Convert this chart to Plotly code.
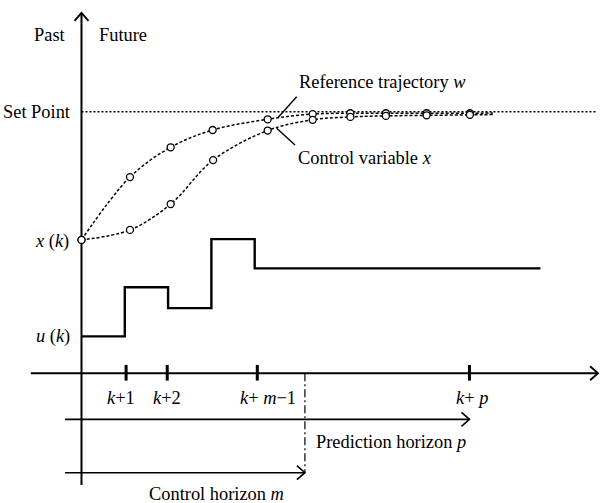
import plotly.graph_objects as go

# ---- data (time in sampling steps from k, value normalised so Set Point = 1) ----
ref_t = [0.0, 1.12, 2.06, 3.03, 4.30, 5.34, 6.21, 7.03, 7.97, 8.97]
ref_v = [0.510, 0.750, 0.864, 0.930, 0.971, 0.991, 0.994, 0.994, 0.994, 0.994]
ref_end = [9.50, 0.995]

ctl_t = [0.0, 1.12, 2.06, 3.04, 4.30, 5.34, 6.21, 7.03, 7.97, 8.97]
ctl_v = [0.510, 0.548, 0.647, 0.815, 0.928, 0.969, 0.980, 0.984, 0.986, 0.988]
ctl_end = [9.50, 0.989]

u_edges = [0, 1, 2, 3, 4, 10.6]
u_levels = [0.141, 0.329, 0.249, 0.513, 0.401]

set_point = 1.0
tick_t = [1.03, 1.98, 4.06, 8.96]
tick_labels = ["<i>k</i>+1", "<i>k</i>+2", "<i>k</i>+ <i>m</i>−1", "<i>k</i>+ <i>p</i>"]
tick_label_t = [0.91, 1.98, 4.30, 9.03]

control_horizon_end = 5.16
prediction_horizon_end = 8.96
horizon_start = -0.38

# ---- layout constants ----
X0, X1 = -1.882, 11.975
Y0, Y1 = -0.4958, 1.427
PX_T = 600 / (X1 - X0)
PX_V = 503 / (Y1 - Y0)

BLACK = "#000"
FONT = dict(family="Liberation Serif, Times New Roman, serif", size=18.4, color=BLACK)

fig = go.Figure()

def line(xs, ys, width=2.0, dash=None, shape="linear"):
    fig.add_trace(go.Scatter(x=xs, y=ys, mode="lines", hoverinfo="skip",
                             line=dict(color=BLACK, width=width, dash=dash, shape=shape),
                             showlegend=False))

def arrow_right(t, v, width=1.6):
    dt, dv = 8 / PX_T, 7 / PX_V
    line([t - dt, t, t - dt], [v + dv, v, v - dv], width=width)

# axes
line([-1.17, 11.93], [0, 0], width=2)
arrow_right(11.93, 0, width=1.8)
line([0, 0], [-0.427, 1.378], width=2)
dt, dv = 7 / PX_T, 8 / PX_V
line([-dt, 0, dt], [1.378 - dv, 1.378, 1.378 - dv], width=1.8)

# set point
line([0, 11.88], [set_point, set_point], width=1.5, dash="2px,2px")

# ticks
for t in tick_t:
    line([t, t], [0.032, -0.028], width=3)

# horizons
pv = -0.176
cv = -0.380
line([horizon_start, prediction_horizon_end], [pv, pv], width=1.6)
arrow_right(prediction_horizon_end, pv)
line([horizon_start, control_horizon_end], [cv, cv], width=1.6)
arrow_right(control_horizon_end, cv)
line([control_horizon_end, control_horizon_end], [0, cv], width=1.2, dash="8px,3px,2px,3px")

# control signal u (step)
ux, uy = [], []
for i, lv in enumerate(u_levels):
    ux += [u_edges[i], u_edges[i + 1]]
    uy += [lv, lv]
line(ux, uy, width=2.4)

# trajectories
line(ref_t + [ref_end[0]], ref_v + [ref_end[1]], width=1.5, dash="3px,2px", shape="spline")
line(ctl_t + [ctl_end[0]], ctl_v + [ctl_end[1]], width=1.5, dash="3px,2px", shape="spline")
for ts, vs in ((ref_t, ref_v), (ctl_t, ctl_v)):
    fig.add_trace(go.Scatter(x=ts, y=vs, mode="markers", hoverinfo="skip", showlegend=False,
                             marker=dict(symbol="circle", size=7, color="white",
                                         line=dict(color=BLACK, width=1.3))))

# leader lines
line([4.970, 4.545], [1.057, 0.979], width=1.4)
line([4.508, 4.931], [0.937, 0.873], width=1.4)

ann = []
def text(t, v, s, xanchor="center"):
    ann.append(dict(x=t, y=v, xref="x", yref="y", text=s, showarrow=False,
                    xanchor=xanchor, yanchor="middle", font=FONT))

text(-0.335, 1.293, "Past", "right")
text(0.351, 1.293, "Future", "left")
text(-0.226, 1.0, "Set Point", "right")
text(-0.242, 0.503, "<i>x</i> (<i>k</i>)", "right")
text(-0.226, 0.140, "<i>u</i> (<i>k</i>)", "right")
for t, s in zip(tick_label_t, tick_labels):
    text(t, -0.094, s)
text(5.376, -0.262, "Prediction horizon <i>p</i>", "left")
text(3.12, -0.462, "Control horizon <i>m</i>")
text(4.97, 1.115, "Reference trajectory <i>w</i>", "left")
text(4.95, 0.822, "Control variable <i>x</i>", "left")

fig.update_layout(
    width=600, height=503, margin=dict(l=0, r=0, t=0, b=0),
    paper_bgcolor="white", plot_bgcolor="white",
    xaxis=dict(range=[X0, X1], visible=False, fixedrange=True),
    yaxis=dict(range=[Y0, Y1], visible=False, fixedrange=True),
    annotations=ann, showlegend=False,
)
fig.write_html(
    "out.html",
    config={"displayModeBar": False},
    post_script="document.body.style.margin='0';document.body.style.overflow='hidden';",
)
